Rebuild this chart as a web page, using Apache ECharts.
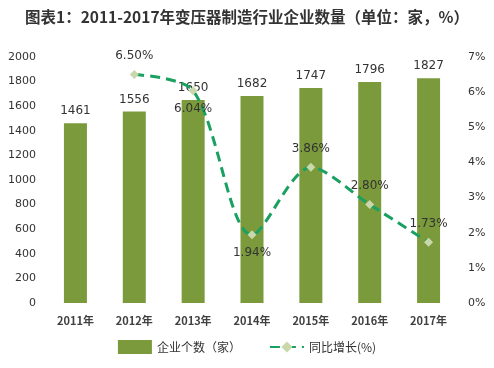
<!DOCTYPE html>
<html><head><meta charset="utf-8">
<script src="https://cdn.jsdelivr.net/npm/echarts@6/dist/echarts.min.js"></script>
<style>html,body{margin:0;padding:0;background:#fff}#c{width:494px;height:368px}</style>
</head><body><div id="c"></div>
<script>
var categories = ['2011年','2012年','2013年','2014年','2015年','2016年','2017年'];
var counts = [1461,1556,1650,1682,1747,1796,1827];
var growth = [null,6.50,6.04,1.94,3.86,2.80,1.73];
var growthLabelPos = [null,'top','bottom','bottom','top','top','top'];
var leftTicks = [0,200,400,600,800,1000,1200,1400,1600,1800,2000];
var rightTicks = [0,1,2,3,4,5,6,7];

var chart = echarts.init(document.getElementById('c'));
var font = '"Noto Sans CJK SC","Microsoft YaHei",sans-serif';
var numFont = '"DejaVu Sans","Noto Sans CJK SC",sans-serif';
chart.setOption({
  animation:false,
  textStyle:{fontFamily:font},
  title:{text:'图表1：2011-2017年变压器制造行业企业数量（单位：家，%）',left:'center',top:4,
    textStyle:{fontSize:15.5,fontWeight:'bold',color:'#333',fontFamily:font}},
  grid:{left:46,right:36,top:57,bottom:65},
  legend:{bottom:9,left:'center',itemGap:28,textStyle:{fontSize:12,color:'#333'},
    data:[{name:'企业个数（家）',icon:'rect',itemWidth:34,itemHeight:7},{name:'同比增长(%)'}],itemWidth:34},
  xAxis:{type:'category',data:categories,axisLine:{show:false},axisTick:{show:false},
    axisLabel:{fontSize:11,fontWeight:'bold',color:'#404040',margin:12,fontFamily:font}},
  yAxis:[
    {type:'value',min:leftTicks[0],max:leftTicks[leftTicks.length-1],interval:200,splitLine:{show:false},
     axisLine:{show:false},axisTick:{show:false},
     axisLabel:{fontSize:11,color:'#333',margin:10,fontFamily:numFont,formatter:function(v){return String(v);}}},
    {type:'value',min:rightTicks[0],max:rightTicks[rightTicks.length-1],interval:1,splitLine:{show:false},
     axisLine:{show:false},axisTick:{show:false},axisLabel:{fontSize:11,color:'#333',margin:10,fontFamily:numFont,formatter:'{value}%'}}
  ],
  series:[
    {name:'企业个数（家）',type:'bar',data:counts,barWidth:23,itemStyle:{color:'#7a9a3c'},
     label:{show:true,position:'top',fontSize:12,color:'#333',distance:6,fontFamily:numFont}},
    {name:'同比增长(%)',type:'line',yAxisIndex:1,smooth:0.3,
     data:growth.map(function(v,i){return v==null?null:{value:v,label:{position:growthLabelPos[i]}};}),
     lineStyle:{color:'#1aa060',width:3,type:[10,6]},
     itemStyle:{color:'#c8d8aa'},symbol:'diamond',symbolSize:9,
     label:{show:true,fontSize:12,color:'#333',distance:8,fontFamily:numFont,formatter:function(p){return p.value.toFixed(2)+'%';}}}
  ]
});
</script></body></html>
